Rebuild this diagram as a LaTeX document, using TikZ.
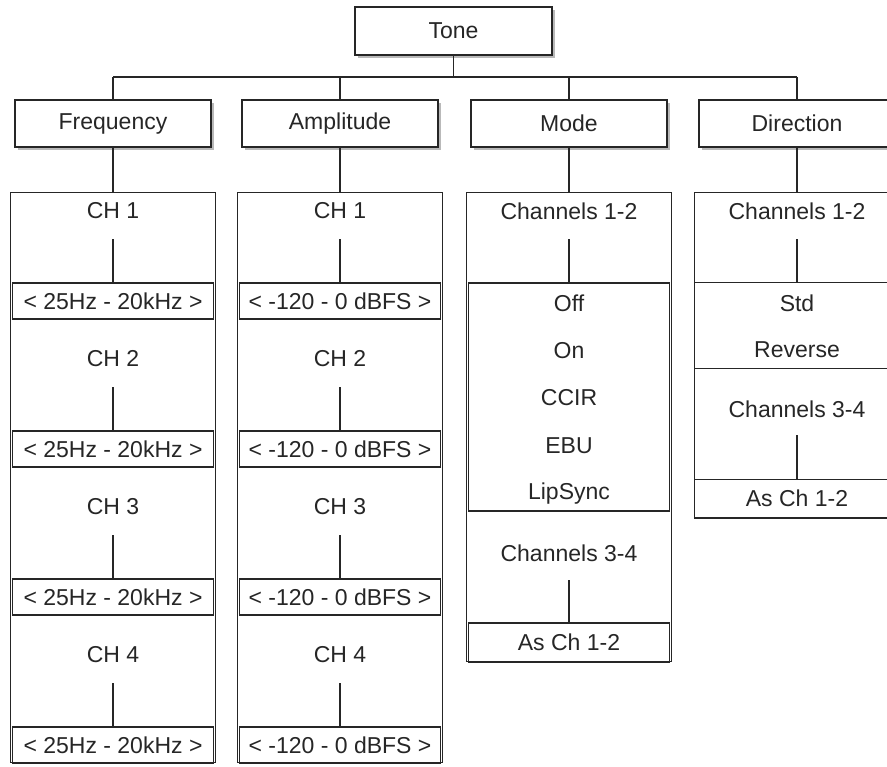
\documentclass[tikz,border=0pt]{standalone}
\usepackage{fontspec}
\setmainfont{Liberation Sans}
\usetikzlibrary{positioning,shadows}

\tikzset{
  hdr/.style={draw=black!85, fill=white, line width=0.6pt, minimum width=98pt, minimum height=23.5pt, inner sep=0pt,
    drop shadow={shadow xshift=1.6pt, shadow yshift=-1.6pt, fill=gray!55, opacity=1}},
  colbox/.style={draw=black!85, line width=0.6pt, minimum width=102.5pt, anchor=north, inner sep=0pt},
  valbox/.style={draw=black!85, fill=white, line width=0.9pt, minimum width=100.5pt, minimum height=18pt, anchor=north, inner sep=0pt},
  optbox/.style={draw=black!85, line width=0.9pt, minimum width=100.5pt, anchor=north, inner sep=0pt},
  ln/.style={draw=black!85, line width=0.6pt}
}

\begin{document}
\begin{tikzpicture}[x=0.5pt, y=-0.5pt, every node/.style={font=\fontsize{11.5}{13.8}\selectfont, text=black!85}]
\useasboundingbox (0,0) rectangle (887,766);
% top level
\node[hdr, minimum width=98.5pt, minimum height=24pt] (tone) at (453.5,31) {Tone};
\node[hdr] (freq) at (113,123.5) {Frequency};
\node[hdr] (ampl) at (340,123.5) {Amplitude};
\node[hdr] (mode) at (569,123.5) {Mode};
\node[hdr] (dir) at (797,123.5) {Direction};
\coordinate (busl) at (113,77);
\coordinate (busr) at (797,77);
\draw[ln] (busl) -- (busr);
\draw[ln] (tone.south) -- (tone.south |- busl);
\draw[ln] (freq.north) -- (freq.north |- busl);
\draw[ln] (ampl.north) -- (ampl.north |- busl);
\draw[ln] (mode.north) -- (mode.north |- busl);
\draw[ln] (dir.north) -- (dir.north |- busl);
% columns
\node[colbox, minimum height=285pt] (fcol) at (113,192) {};
\node[colbox, minimum height=285pt] (acol) at (340,192) {};
\node[colbox, minimum height=234.5pt] (mcol) at (569,192) {};
\node[colbox, minimum height=162.5pt] (dcol) at (797,192) {};
\draw[ln] (freq.south) -- (fcol.north);
\draw[ln] (ampl.south) -- (acol.north);
\draw[ln] (mode.south) -- (mcol.north);
\draw[ln] (dir.south) -- (dcol.north);
% frequency
\node (f1) at (113,211) {CH 1};
\node[valbox] (fv1) at (113,282) {< 25Hz - 20kHz >};
\node (f2) at (113,359) {CH 2};
\node[valbox] (fv2) at (113,430) {< 25Hz - 20kHz >};
\node (f3) at (113,507) {CH 3};
\node[valbox] (fv3) at (113,578) {< 25Hz - 20kHz >};
\node (f4) at (113,655) {CH 4};
\node[valbox] (fv4) at (113,726) {< 25Hz - 20kHz >};
\draw[ln] (fv1.north) -- ++(0,-43);
\draw[ln] (fv2.north) -- ++(0,-43);
\draw[ln] (fv3.north) -- ++(0,-43);
\draw[ln] (fv4.north) -- ++(0,-43);
% amplitude
\node (a1) at (340,211) {CH 1};
\node[valbox] (av1) at (340,282) {< -120 - 0 dBFS >};
\node (a2) at (340,359) {CH 2};
\node[valbox] (av2) at (340,430) {< -120 - 0 dBFS >};
\node (a3) at (340,507) {CH 3};
\node[valbox] (av3) at (340,578) {< -120 - 0 dBFS >};
\node (a4) at (340,655) {CH 4};
\node[valbox] (av4) at (340,726) {< -120 - 0 dBFS >};
\draw[ln] (av1.north) -- ++(0,-43);
\draw[ln] (av2.north) -- ++(0,-43);
\draw[ln] (av3.north) -- ++(0,-43);
\draw[ln] (av4.north) -- ++(0,-43);
% mode
\node (m1) at (569,211) {Channels 1-2};
\node[optbox, minimum height=114pt] (mopt) at (569,282) {};
\node (moff) at (569,303) {Off};
\node (mon) at (569,351) {On};
\node (mccir) at (569,398) {CCIR};
\node (mebu) at (569,446) {EBU};
\node (mlip) at (569,494) {LipSync};
\node (m2) at (569,553) {Channels 3-4};
\node[valbox, minimum height=19.5pt] (mv2) at (569,622) {As Ch 1-2};
\draw[ln] (mopt.north) -- ++(0,-43);
\draw[ln] (mv2.north) -- ++(0,-42);
% direction
\node (d1) at (797,211) {Channels 1-2};
\node[colbox, minimum height=43pt] (dopt) at (797,282) {};
\node (dstd) at (797,303) {Std};
\node (drev) at (797,350) {Reverse};
\node (d2) at (797,409) {Channels 3-4};
\node[colbox, minimum height=19pt] (dv2) at (797,479) {As Ch 1-2};
\draw[ln, line width=1.2pt] (dv2.south west) -- (dv2.south east);
\draw[ln] (dopt.north) -- ++(0,-43);
\draw[ln] (dv2.north) -- ++(0,-44);
\end{tikzpicture}
\end{document}
